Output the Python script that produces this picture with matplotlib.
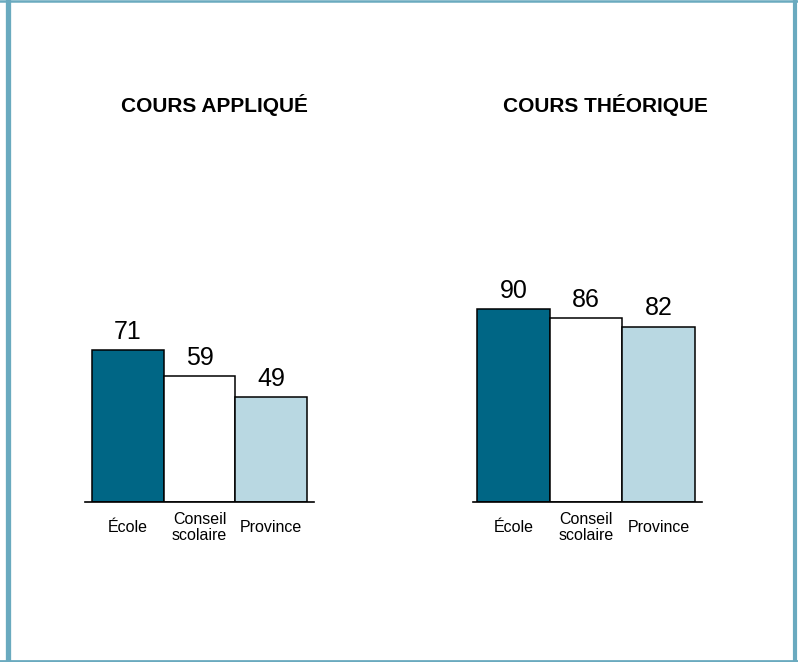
import matplotlib
matplotlib.use('Agg')
from matplotlib import pyplot as plt
from matplotlib.lines import Line2D

plt.rcParams['font.family'] = ['Liberation Sans', 'DejaVu Sans']

# Data
categories = ['École', 'Conseil\nscolaire', 'Province']
applique = [71, 59, 49]
theorique = [90, 86, 82]
titles = ['COURS APPLIQUÉ', 'COURS THÉORIQUE']
bar_colors = ['#006685', '#ffffff', '#b9d8e2']

W, H = 798, 662
fig = plt.figure(figsize=(W / 100, H / 100), dpi=100)

# outer frame (left side is thicker in the original)
frame = '#6aaabf'
for (x0, y0, x1, y1, lw) in [(7.5, 0, 7.5, H, 3.8), (0, H - 1, W, H - 1, 1.8),
                             (795, 0, 795, H, 3), (0, 1, W, 1, 2)]:
    fig.add_artist(Line2D([x0 / W, x1 / W], [y0 / H, y1 / H], transform=fig.transFigure,
                          color=frame, linewidth=lw))


def px_axes(left, top, width, height):
    return fig.add_axes([left / W, (H - top - height) / H, width / W, height / H])


def draw_panel(ax, values):
    x = [i + 0.5 for i in range(len(values))]
    ax.bar(x, values, width=1.0, color=bar_colors, edgecolor='black', linewidth=1.1)
    ax.set_ylim(0, 100)
    for s in ['top', 'left', 'right']:
        ax.spines[s].set_visible(False)
    ax.spines['bottom'].set_linewidth(1.2)
    ax.set_yticks([])
    ax.set_xticks([])
    ax.patch.set_alpha(0)
    for xi, v in zip(x, values):
        ax.annotate(str(v), (xi, v), xytext=(0, 8), textcoords='offset points',
                    ha='center', va='baseline', fontsize=18)
    for xi, lab in zip(x, categories):
        ax.text(xi, -11.8, lab, ha='center', va='center', fontsize=11.5,
                linespacing=1.1, clip_on=False)


ax1 = px_axes(92 - 0.1 * 71.7, 502 - 214, 3.2 * 71.7, 214)
ax1.set_xlim(-0.1, 3.1)
draw_panel(ax1, applique)

ax2 = px_axes(477 - 0.06 * 72.7, 502 - 214, 3.16 * 72.7, 214)
ax2.set_xlim(-0.06, 3.1)
draw_panel(ax2, theorique)

fig.text(214 / W, (H - 112) / H, titles[0], ha='center', va='baseline',
         fontsize=15, fontweight='bold')
fig.text(605 / W, (H - 112) / H, titles[1], ha='center', va='baseline',
         fontsize=15, fontweight='bold')

fig.savefig('out.png', dpi=100)
